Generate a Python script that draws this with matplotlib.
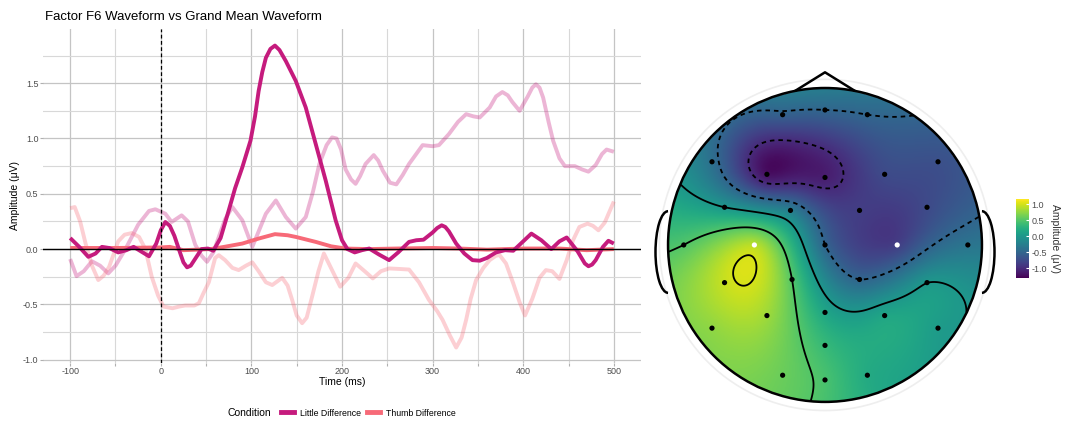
import numpy as np
import matplotlib
matplotlib.use("Agg")
import matplotlib.pyplot as plt
from matplotlib.patches import Circle, Arc
from matplotlib.lines import Line2D

plt.rcParams['font.family'] = ['Liberation Sans', 'DejaVu Sans']

# ---- waveform data ----
little_t = [-100, -90, -80, -72, -65, -57, -47, -38, -30, -22, -13, -5, 0, 5, 10, 15, 22, 25, 29,
            33, 37, 45, 52, 58, 66, 75, 82, 90, 99, 104, 108, 112, 116, 121, 126, 131, 138, 149,
            160, 171, 182, 193, 200, 206, 214, 222, 230, 241, 252, 262, 274, 282, 290, 300, 305,
            310, 314, 318, 326, 335, 344, 352, 360, 370, 380, 389, 400, 409, 420, 431, 440, 448,
            460, 468, 472, 476, 480, 488, 494, 500]
little_v = [0.10, 0.02, -0.07, -0.04, 0.02, 0.01, -0.03, -0.01, 0.02, -0.02, -0.065, 0.05, 0.17,
            0.245, 0.21, 0.12, -0.05, -0.12, -0.165, -0.15, -0.10, 0.0, 0.005, -0.015, 0.10, 0.35,
            0.55, 0.74, 0.98, 1.2, 1.43, 1.6, 1.73, 1.81, 1.84, 1.80, 1.70, 1.52, 1.28, 0.95, 0.62,
            0.26, 0.08, 0.0, -0.03, -0.01, 0.005, -0.05, -0.10, -0.03, 0.065, 0.08, 0.085, 0.15,
            0.19, 0.215, 0.2, 0.16, 0.05, -0.04, -0.10, -0.105, -0.08, -0.03, -0.01, -0.015, 0.07,
            0.14, 0.08, 0.0, 0.07, 0.105, -0.02, -0.13, -0.155, -0.14, -0.10, 0.02, 0.075, 0.05]

thumb_t = [-100, -50, 0, 10, 25, 40, 55, 70, 90, 108, 126, 140, 149, 171, 188, 204, 230, 260,
           300, 330, 360, 400, 440, 470, 500]
thumb_v = [0.01, 0.01, 0.015, 0.02, -0.01, -0.005, 0.0, 0.02, 0.05, 0.095, 0.135, 0.125, 0.11,
           0.065, 0.025, 0.005, 0.0, 0.005, 0.01, 0.005, -0.005, 0.005, 0.005, -0.01, 0.0]

gm_little_t = [-100, -93, -85, -76, -67, -58, -50, -39, -25, -13, -6, 5, 12, 23, 30, 38, 45, 51,
               58, 64, 71, 79, 90, 101, 108, 116, 127, 138, 149, 160, 168, 175, 183, 189, 194,
               199, 204, 210, 215, 220, 226, 235, 240, 245, 253, 260, 267, 274, 289, 300, 307,
               318, 328, 337, 345, 352, 363, 370, 377, 383, 388, 396, 405, 410, 414, 418, 422,
               428, 433, 440, 446, 457, 465, 472, 480, 487, 492, 500]
gm_little_v = [-0.09, -0.245, -0.2, -0.11, -0.15, -0.22, -0.15, 0.0, 0.22, 0.345, 0.36, 0.32,
               0.245, 0.305, 0.25, 0.04, -0.06, -0.115, -0.03, 0.11, 0.27, 0.38, 0.26, 0.02, 0.16,
               0.32, 0.44, 0.29, 0.185, 0.29, 0.52, 0.77, 0.94, 1.01, 1.0, 0.9, 0.72, 0.63, 0.59,
               0.66, 0.77, 0.85, 0.8, 0.71, 0.6, 0.585, 0.67, 0.77, 0.94, 0.93, 0.94, 1.04, 1.15,
               1.22, 1.2, 1.19, 1.28, 1.38, 1.42, 1.39, 1.33, 1.25, 1.38, 1.46, 1.49, 1.46, 1.37,
               1.15, 0.98, 0.82, 0.75, 0.75, 0.72, 0.70, 0.76, 0.86, 0.90, 0.88]

gm_thumb_t = [-100, -95, -89, -83, -76, -69, -63, -57, -47, -40, -32, -24, -17, -10, -3, 3, 13,
              20, 27, 37, 42, 47, 53, 60, 64, 71, 79, 86, 94, 101, 108, 116, 123, 134, 140, 145,
              150, 156, 161, 167, 174, 180, 189, 198, 207, 215, 225, 234, 243, 252, 264, 274,
              285, 296, 305, 311, 319, 326, 332, 337, 342, 348, 356, 363, 370, 374, 381, 389,
              396, 402, 410, 418, 425, 432, 440, 448, 455, 462, 471, 477, 483, 490, 500]
gm_thumb_v = [0.37, 0.38, 0.25, 0.05, -0.15, -0.28, -0.24, -0.16, 0.07, 0.13, 0.145, 0.11, 0.0,
              -0.25, -0.42, -0.52, -0.535, -0.52, -0.51, -0.51, -0.49, -0.40, -0.30, -0.08,
              -0.055, -0.10, -0.17, -0.19, -0.15, -0.12, -0.2, -0.3, -0.325, -0.26, -0.33, -0.46,
              -0.6, -0.67, -0.62, -0.43, -0.2, -0.04, -0.19, -0.34, -0.26, -0.13, -0.2, -0.265,
              -0.2, -0.175, -0.18, -0.185, -0.3, -0.46, -0.56, -0.64, -0.78, -0.89, -0.8, -0.64,
              -0.45, -0.28, -0.17, -0.10, -0.06, -0.055, -0.13, -0.31, -0.48, -0.60, -0.45,
              -0.26, -0.19, -0.2, -0.27, -0.1, 0.08, 0.2, 0.23, 0.21, 0.17, 0.24, 0.43]

conditions = ["Little Difference", "Thumb Difference"]
x_ticks = [-100, 0, 100, 200, 300, 400, 500]
y_ticks = [-1.0, -0.5, 0.0, 0.5, 1.0, 1.5]

# ---- topography data: electrode positions (head radius = 1) and amplitudes ----
elec_x = [-0.27, 0.0, 0.27, -0.72, -0.37, 0.0, 0.38, 0.72, -0.64, -0.22, 0.22, 0.65, -0.90,
          -0.45, 0.0, 0.46, 0.91, -0.64, -0.21, 0.22, 0.65, -0.72, -0.37, 0.0, 0.38, 0.72, 0.0,
          -0.27, 0.0, 0.27]
elec_y = [0.83, 0.86, 0.83, 0.53, 0.45, 0.43, 0.45, 0.53, 0.24, 0.22, 0.22, 0.24, 0.0, 0.0,
          0.0, 0.0, 0.0, -0.24, -0.22, -0.22, -0.24, -0.53, -0.45, -0.43, -0.45, -0.53, -0.64,
          -0.83, -0.86, -0.83]
elec_amp = [-0.55, -0.5, -0.5, -0.4, -1.2, -1.1, -0.75, -0.7, 0.0, -0.25, -0.85, -0.75, 0.5,
            0.9, -0.5, -0.85, -0.35, 0.95, 0.5, -0.5, 0.0, 0.75, 0.8, 0.15, 0.15, 0.05, 0.35,
            0.6, 0.45, 0.2]
white_elecs = [13, 15]
amp_min, amp_max = -1.30, 1.16
contour_levels = [-1.0, -0.5, 0.0, 0.5, 1.0]
cbar_ticks = [-1.0, -0.5, 0.0, 0.5, 1.0]

col_little = "#C51B7D"
col_thumb = "#F76A78"

W, H = 1067, 421
fig = plt.figure(figsize=(W / 100, H / 100), dpi=100)

# ================= waveform panel =================
ax = fig.add_axes([43 / W, 58 / H, 598 / W, 334 / H])
ax.set_xlim(-130, 530)
ax.set_ylim(-1.03, 1.99)
for s in ax.spines.values():
    s.set_visible(False)
ax.set_xticks(x_ticks)
ax.set_xticks(np.arange(-50, 501, 100), minor=True)
ax.set_yticks(y_ticks)
ax.set_yticks(np.arange(-0.75, 1.8, 0.5), minor=True)
ax.set_xticklabels([str(t) for t in x_ticks])
ax.set_yticklabels([f"{v:.1f}" for v in y_ticks])
ax.grid(True, which="major", color="#c4c4c4", lw=0.9)
ax.grid(True, which="minor", color="#d8d8d8", lw=0.8)
ax.tick_params(axis="both", which="both", colors="#b0b0b0", length=2.2, width=0.8,
               labelcolor="#4d4d4d", labelsize=6.5, pad=1.0)
ax.tick_params(axis="y", which="minor", length=0)
ax.set_axisbelow(True)

line_kw = dict(lw=2.8, solid_joinstyle="round", solid_capstyle="butt")
ax.plot(gm_little_t, gm_little_v, color=col_little, alpha=0.32, **line_kw)
ax.plot(gm_thumb_t, gm_thumb_v, color=col_thumb, alpha=0.32, **line_kw)
ax.plot(thumb_t, thumb_v, color=col_thumb, **line_kw)
ax.plot(little_t, little_v, color=col_little, **line_kw)
ax.axhline(0, color="black", lw=1.0, zorder=5)
ax.axvline(0, color="black", lw=0.9, ls=(0, (3, 2)), zorder=5)

fig.text(45 / W, 1 - 17 / H, "Factor F6 Waveform vs Grand Mean Waveform", fontsize=9.5,
         va="center", ha="left")
fig.text(15 / W, 1 - 196 / H, "Amplitude (μV)", rotation=90, fontsize=7.5, va="center",
         ha="center")
fig.text(342 / W, 1 - 382 / H, "Time (ms)", fontsize=7.5, va="center", ha="center")

fig.text(228 / W, 1 - 413 / H, "Condition", fontsize=7.5, va="center", ha="left")
handles = [Line2D([], [], color=col_little, lw=3.5), Line2D([], [], color=col_thumb, lw=3.5)]
fig.legend(handles, conditions, loc="center left", bbox_to_anchor=(281 / W, 1 - 413 / H),
           ncol=2, frameon=False, fontsize=6.3, handlelength=1.5, handletextpad=0.7,
           columnspacing=0.6, borderpad=0, borderaxespad=0)

# ================= topography panel =================
tx = fig.add_axes([650 / W, 6 / H, 350 / W, 355 / H])
tx.set_xlim(-1.115, 1.115)
tx.set_ylim(-1.083, 1.178)
tx.axis("off")

ex = np.array(elec_x)
ey = np.array(elec_y)
ev = np.array(elec_amp)


def tps_kernel(r):
    with np.errstate(divide="ignore", invalid="ignore"):
        k = r ** 2 * np.log(r)
    return np.nan_to_num(k)


# thin-plate spline through the electrode amplitudes
n = len(ex)
d = np.hypot(ex[:, None] - ex[None, :], ey[:, None] - ey[None, :])
P = np.column_stack([np.ones(n), ex, ey])
A = np.zeros((n + 3, n + 3))
A[:n, :n] = tps_kernel(d) + 1e-3 * np.eye(n)
A[:n, n:] = P
A[n:, :n] = P.T
coef = np.linalg.solve(A, np.concatenate([ev, np.zeros(3)]))

g = np.linspace(-1.05, 1.05, 301)
GX, GY = np.meshgrid(g, g)
dg = np.hypot(GX[..., None] - ex, GY[..., None] - ey)
Z = tps_kernel(dg) @ coef[:n] + coef[n] + coef[n + 1] * GX + coef[n + 2] * GY
Z = np.ma.masked_where(np.hypot(GX, GY) > 1.0, Z)

clip = Circle((0, 0), 1.0, transform=tx.transData)
im = tx.imshow(Z, extent=(-1.05, 1.05, -1.05, 1.05), origin="lower", cmap="viridis",
               vmin=amp_min, vmax=amp_max, interpolation="bilinear")
im.set_clip_path(clip)
tx.contour(GX, GY, Z, levels=contour_levels, colors="black", linewidths=1.3,
           linestyles=[(0, (2.5, 2.2)) if lv < 0 else "solid" for lv in contour_levels])

tx.add_patch(Circle((0, 0), 1.055, fill=False, ec="#eeeeee", lw=1.2))
tx.add_patch(Circle((0, 0), 1.0, fill=False, ec="black", lw=1.8, zorder=6))
tx.plot([-0.185, 0.0, 0.185], [0.985, 1.10, 0.985], color="black", lw=1.8, zorder=6)
tx.add_patch(Arc((-1.0, -0.045), 0.16, 0.52, theta1=90, theta2=270, color="black", lw=1.8))
tx.add_patch(Arc((1.0, -0.045), 0.16, 0.52, theta1=-90, theta2=90, color="black", lw=1.8))

dot_cols = ["white" if i in white_elecs else "black" for i in range(n)]
tx.scatter(ex, ey, s=14, c=dot_cols, zorder=7, linewidths=0)

cax = fig.add_axes([1016 / W, (H - 278) / H, 13 / W, 79 / H])
cb = fig.colorbar(im, cax=cax, ticks=cbar_ticks)
cb.outline.set_visible(False)
cb.ax.tick_params(color="white", length=2.5, width=0.8, direction="in", labelsize=6.5,
                  labelcolor="#4d4d4d", pad=2)
cb.ax.set_yticklabels([f"{v:.1f}" for v in cbar_ticks])
cb.set_label("Amplitude (μV)", rotation=-90, fontsize=7.5, labelpad=9, color="#333333")

fig.savefig("out.png", dpi=100)
